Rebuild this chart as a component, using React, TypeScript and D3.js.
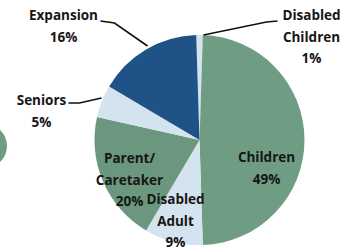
import React from 'react';
import * as d3 from 'd3';

// Slices in clockwise order starting at 12 o'clock
const categories = ['Disabled Children', 'Children', 'Disabled Adult', 'Parent/Caretaker', 'Seniors', 'Expansion'];
const shares = [1, 49, 9, 20, 5, 16];
const colors = ['#d3e3ef', '#6e9d84', '#d3e3ef', '#6b977e', '#d3e3ef', '#1f5387'];

// label lines as printed on the chart
const labelLines = [
  ['Disabled', 'Children', '1%'],
  ['Children', '49%'],
  ['Disabled', 'Adult', '9%'],
  ['Parent/', 'Caretaker', '20%'],
  ['Seniors', '5%'],
  ['Expansion', '16%'],
];

const width = 345;
const height = 250;
const cx = 199.5;
const cy = 140;
const radius = 105;

// where each label block sits (centre x, first line y) relative to the pie centre
const labelPos: [number, number][] = [
  [112, -120],
  [67, 22],
  [-24, 64],
  [-70, 23],
  [-158, -35],
  [-136, -120],
];

// leader lines for outside labels: label end -> elbow -> pie edge
const leaders: { idx: number; pts: [number, number][] }[] = [
  { idx: 0, pts: [[78, -119], [67, -118], [4, -105]] },
  { idx: 5, pts: [[-99, -119], [-85, -117], [-52, -94]] },
  { idx: 4, pts: [[-131, -37], [-120, -37], [-98, -42]] },
];

const App: React.FC = () => {
  const pie = d3.pie<number>().sort(null).value(d => d).startAngle(-0.01 * Math.PI);
  const arcs = pie(shares);
  const arc = d3.arc<d3.PieArcDatum<number>>().innerRadius(0).outerRadius(radius);
  const line = d3.line();

  // a sliver of the neighbouring chart peeking in at the left edge
  const neighbour = d3.arc()({ innerRadius: 0, outerRadius: 22, startAngle: 0, endAngle: 2 * Math.PI });

  return (
    <svg width={width} height={height} style={{ position: 'absolute', left: 0, top: 0, background: '#fff' }}>
      <g transform="translate(-15,146)">
        <path d={neighbour || ''} fill="#6e9d84" />
      </g>
      <g transform={`translate(${cx},${cy})`}>
        {arcs.map((a, i) => (
          <path key={categories[i]} d={arc(a) || ''} fill={colors[i]} />
        ))}
        {leaders.map(l => (
          <path key={l.idx} d={line(l.pts) || ''} fill="none" stroke="#111" strokeWidth={1.6} />
        ))}
        {labelLines.map((lines, i) => (
          <text
            key={categories[i]}
            x={labelPos[i][0]}
            y={labelPos[i][1]}
            textAnchor="middle"
            fontFamily="'Open Sans', sans-serif"
            fontWeight="bold"
            fontSize={13.5}
            fill="#161616"
          >
            {lines.map((t, j) => (
              <tspan key={j} x={labelPos[i][0]} dy={j === 0 ? 0 : 21.5}>{t}</tspan>
            ))}
          </text>
        ))}
      </g>
    </svg>
  );
};

export default App;
